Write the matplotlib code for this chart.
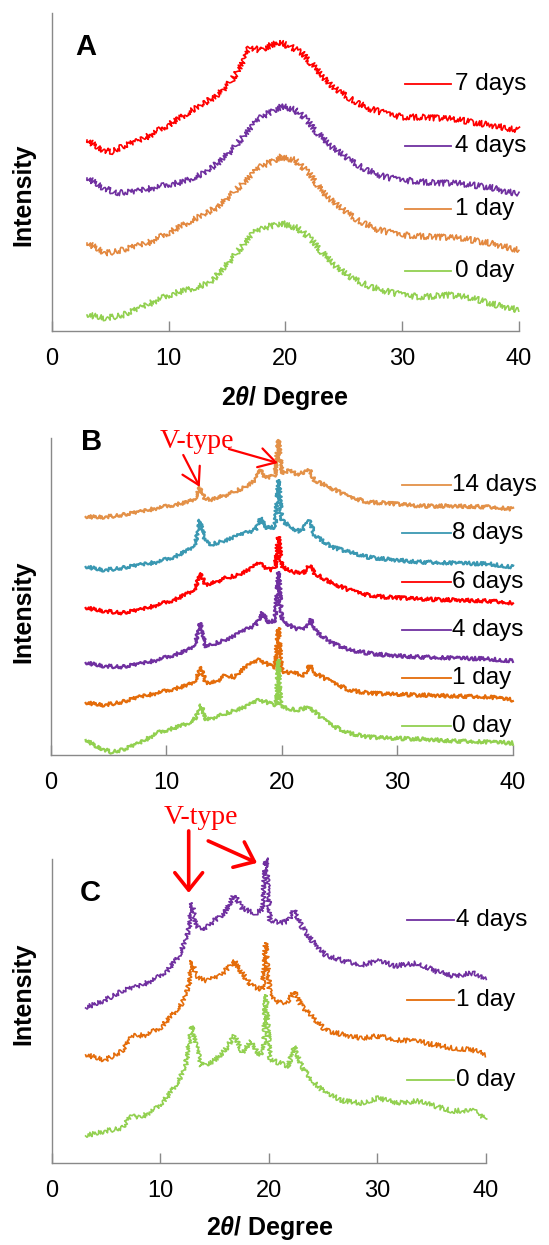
import matplotlib
matplotlib.use("Agg")
import matplotlib.pyplot as plt

plt.rcParams['font.family'] = ['Liberation Sans', 'DejaVu Sans']
plt.rcParams['mathtext.fontset'] = 'custom'
plt.rcParams['mathtext.rm'] = 'Liberation Sans:bold'
plt.rcParams['mathtext.it'] = 'Liberation Sans:italic:bold'

# ---------------- panel A (2theta in degree, intensity in arbitrary units)
a7_x = [3.0, 4.0, 5.0, 6.0, 7.6, 10.0, 12.0, 14.2, 15.4, 16.6, 16.9, 17.8, 19.4, 20.5, 21.4, 22.5, 24.0,
        25.5, 27.0, 28.5, 30.0, 31.5, 34.5, 36.0, 37.5, 39.0, 40.0]
a7_y = [191, 183, 179, 184, 191, 206, 221, 236, 251, 274, 284, 281, 289, 284, 278, 264, 244,
        233, 223, 218, 214, 214, 212, 209, 206, 203, 201]
a4_x = [3.0, 4.3, 5.5, 7.0, 9.0, 11.2, 13.0, 14.2, 15.4, 16.6, 17.8, 19.0, 19.8, 20.8, 21.7, 22.5, 24.0,
        25.5, 27.0, 28.5, 30.0, 33.0, 34.5, 36.0, 37.5, 39.0, 40.0]
a4_y = [153, 144, 138, 139, 144, 149, 158, 168, 181, 198, 213, 221, 225, 221, 213, 201, 184,
        171, 161, 154, 151, 148, 148, 146, 144, 139, 138]
a1_x = [3.0, 4.6, 6.1, 8.2, 10.0, 12.0, 14.2, 16.0, 17.8, 19.6, 20.8, 22.0, 23.2, 24.7, 26.2, 28.0,
        30.0, 33.0, 35.0, 37.5, 40.0]
a1_y = [88, 78, 81, 88, 98, 111, 124, 144, 164, 174, 171, 158, 139, 123, 111, 101,
        96, 94, 93, 88, 81]
a0_x = [3.0, 4.6, 6.1, 7.6, 9.0, 10.6, 12.4, 13.6, 14.8, 16.0, 17.2, 18.4, 19.6, 21.0, 22.0, 23.2,
        24.4, 25.5, 27.4, 29.2, 31.5, 34.0, 36.0, 38.1, 40.0]
a0_y = [16, 13, 16, 23, 31, 38, 44, 49, 64, 81, 98, 104, 108, 103, 94, 78,
        64, 54, 44, 38, 34, 36, 33, 26, 21]
a_labels = ["7 days", "4 days", "1 day", "0 day"]
a_colors = ["#FF0000", "#7030A0", "#E3883F", "#92D050"]
a_legend_y = [247, 185, 122, 60]

# ---------------- panel B
b14_x = [3.0, 4.6, 6.2, 7.7, 9.2, 10.7, 11.9, 12.5, 12.9, 13.3, 13.7, 15.2, 16.8, 17.7, 18.1, 18.6,
         19.4, 19.7, 20.0, 20.7, 21.3, 22.4, 22.8, 23.7, 24.6, 25.8, 27.4, 28.9, 31.9, 34.9, 38.0, 40.0]
b14_y = [238, 238, 240, 243, 247, 250, 253, 257, 268, 257, 255, 260, 268, 275, 285, 277,
         280, 315, 282, 285, 280, 285, 275, 270, 265, 258, 253, 252, 249, 249, 248, 246]
b8_x = [3.0, 4.6, 6.2, 7.7, 9.2, 10.7, 11.9, 12.5, 12.9, 13.3, 13.7, 15.2, 16.8, 17.7, 18.1, 18.7,
        19.4, 19.7, 20.0, 20.7, 21.6, 22.4, 22.8, 24.3, 25.8, 27.4, 28.9, 31.9, 34.9, 38.0, 40.0]
b8_y = [188, 185, 187, 190, 193, 198, 205, 212, 235, 217, 210, 215, 222, 225, 237, 227,
        228, 275, 235, 228, 223, 235, 220, 208, 203, 198, 196, 193, 192, 191, 188]
b6_x = [3.0, 4.6, 6.2, 7.7, 9.2, 10.7, 11.9, 12.5, 12.9, 13.4, 14.3, 15.1, 16.2, 17.4, 18.0, 18.9,
        19.4, 19.7, 20.0, 21.0, 21.9, 22.4, 22.8, 24.3, 25.8, 27.4, 28.9, 31.9, 34.9, 38.0, 40.0]
b6_y = [147, 144, 142, 145, 150, 155, 162, 167, 182, 170, 173, 177, 180, 187, 192, 185,
        187, 218, 188, 183, 182, 190, 182, 172, 165, 160, 158, 156, 155, 154, 152]
b4_x = [3.0, 4.6, 6.2, 7.7, 9.2, 10.7, 11.9, 12.5, 12.9, 13.4, 14.3, 15.5, 16.8, 17.7, 18.3, 18.9,
        19.4, 19.7, 20.0, 21.0, 21.9, 22.5, 23.0, 24.3, 25.8, 27.4, 28.9, 31.9, 34.9, 38.0, 40.0]
b4_y = [92, 89, 88, 91, 95, 100, 105, 112, 132, 108, 112, 117, 125, 130, 142, 132,
        135, 183, 135, 127, 125, 135, 123, 112, 105, 102, 100, 98, 97, 96, 94]
b1_x = [3.0, 4.6, 6.2, 7.7, 9.2, 10.7, 11.9, 12.5, 13.0, 13.4, 14.3, 15.1, 15.9, 16.8, 18.0, 18.9,
        19.4, 19.7, 20.0, 21.0, 21.9, 22.4, 22.8, 24.3, 25.8, 27.4, 28.9, 31.9, 34.9, 38.0, 40.0]
b1_y = [52, 50, 53, 58, 62, 66, 70, 75, 88, 72, 73, 80, 78, 88, 95, 90,
        88, 127, 83, 82, 80, 90, 82, 73, 65, 62, 61, 60, 59, 58, 55]
b0_x = [3.0, 4.0, 5.2, 6.2, 7.7, 9.2, 10.7, 11.9, 12.5, 13.0, 13.4, 14.3, 15.2, 16.8, 18.0, 18.9,
        19.5, 19.7, 19.9, 21.3, 22.4, 23.4, 24.6, 25.8, 27.4, 28.9, 31.9, 34.9, 38.0, 40.0]
b0_y = [15, 8, 3, 5, 12, 22, 27, 32, 37, 50, 35, 38, 42, 48, 55, 52,
        50, 95, 48, 45, 48, 37, 28, 22, 18, 17, 16, 14, 13, 12]
b_labels = ["14 days", "8 days", "6 days", "4 days", "1 day", "0 day"]
b_colors = ["#E39148", "#3A98B2", "#FF0000", "#7030A0", "#E46C0A", "#92D050"]
b_legend_y = [270, 222, 173, 125, 77, 29]

# ---------------- panel C
c4_x = [3.1, 4.9, 6.5, 8.1, 9.7, 10.7, 11.7, 12.3, 12.6, 12.9, 13.3, 13.9, 14.9, 15.9, 16.8, 17.5,
        18.1, 18.8, 19.4, 19.7, 20.1, 21.0, 21.8, 22.3, 23.0, 23.9, 25.2, 26.9, 28.5, 30.1, 31.7,
        33.7, 35.3, 36.9, 38.8, 40.0]
c4_y = [155, 163, 172, 177, 185, 193, 207, 223, 233, 260, 237, 232, 242, 250, 268, 255,
        252, 250, 253, 305, 243, 240, 242, 253, 237, 223, 208, 202, 198, 202, 197,
        200, 192, 187, 190, 183]
c1_x = [3.1, 4.9, 6.5, 7.4, 8.7, 10.0, 11.0, 12.0, 12.6, 12.9, 13.3, 14.2, 15.5, 16.8, 17.5, 18.4,
        19.4, 19.7, 20.1, 21.0, 21.8, 22.3, 23.0, 23.9, 25.2, 26.9, 28.5, 30.1, 31.7, 33.7, 35.3,
        36.9, 38.8, 40.0]
c1_y = [108, 103, 112, 127, 128, 135, 147, 160, 177, 202, 187, 182, 187, 202, 190, 177,
        173, 220, 167, 160, 162, 172, 157, 147, 133, 128, 125, 127, 123, 122, 118,
        115, 113, 108]
c0_x = [3.1, 4.9, 6.5, 7.3, 8.1, 9.7, 10.7, 11.7, 12.3, 12.9, 13.3, 13.8, 14.9, 15.9, 16.8, 17.6,
        18.3, 19.1, 19.5, 19.7, 20.1, 21.0, 21.8, 22.3, 23.0, 23.9, 25.2, 26.9, 28.5, 30.1, 31.7,
        33.7, 35.3, 36.9, 38.8, 40.0]
c0_y = [27, 32, 35, 47, 45, 55, 67, 83, 97, 137, 117, 97, 102, 112, 127, 110,
        122, 107, 113, 168, 103, 100, 97, 117, 97, 83, 70, 62, 60, 65, 60,
        62, 57, 52, 53, 43]
c_labels = ["4 days", "1 day", "0 day"]
c_colors = ["#7030A0", "#E46C0A", "#92D050"]
c_legend_y = [243, 163, 83]

ticks = [0, 10, 20, 30, 40]
axis_gray = "#898989"

fig = plt.figure(figsize=(5.49, 12.45), dpi=100)


def make_axes(rect, ytop):
    ax = fig.add_axes(rect)
    ax.set_xlim(0, 40)
    ax.set_ylim(0, ytop)
    for s in ["top", "right"]:
        ax.spines[s].set_visible(False)
    for s in ["left", "bottom"]:
        ax.spines[s].set_color(axis_gray)
        ax.spines[s].set_linewidth(1.0)
    ax.set_yticks([])
    ax.set_xticks(ticks)
    ax.tick_params(axis="x", direction="in", length=7, width=1, color=axis_gray,
                   labelsize=17, pad=12)
    return ax


def draw_curves(ax, xs, ys, colors, labels, legend_y, lx0, lx1, tx, noise, lw):
    # sketch params only roughen the drawn stroke to look like counting noise
    for x, y, c in zip(xs, ys, colors):
        ln, = ax.plot(x, y, color=c, lw=lw, clip_on=False)
        ln.set_sketch_params(scale=noise, length=0.45, randomness=2)
    for ly, c, lab in zip(legend_y, colors, labels):
        ax.plot([lx0, lx1], [ly, ly], color=c, lw=1.3, clip_on=False)
        ax.text(tx, ly, lab, fontsize=17.5, ha="left", va="center")


# panel A
axA = make_axes([0.0947, 0.7341, 0.8506, 0.2554], 318)
draw_curves(axA, [a7_x, a4_x, a1_x, a0_x], [a7_y, a4_y, a1_y, a0_y], a_colors, a_labels,
            a_legend_y, 30.2, 34.2, 34.5, 3.0, 1.2)
axA.text(2.9, 284, "A", fontsize=21, fontweight="bold", ha="center", va="center")

# panel B
axB = make_axes([0.0929, 0.3936, 0.8415, 0.2546], 317)
draw_curves(axB, [b14_x, b8_x, b6_x, b4_x, b1_x, b0_x], [b14_y, b8_y, b6_y, b4_y, b1_y, b0_y],
            b_colors, b_labels, b_legend_y, 30.4, 34.6, 34.7, 1.8, 1.6)
axB.text(3.5, 313, "B", fontsize=21, fontweight="bold", ha="center", va="center")
axB.text(12.6, 313, "V-type", fontsize=20, color="red", family="Liberation Serif",
         ha="center", va="center")
arrB = dict(arrowstyle="->,head_length=0.6,head_width=0.35", color="red", lw=1.6,
            mutation_scale=20, shrinkA=0, shrinkB=0)
axB.annotate("", xy=(12.88, 268), xytext=(11.45, 300), arrowprops=arrB, annotation_clip=False)
axB.annotate("", xy=(19.65, 292), xytext=(15.4, 306), arrowprops=arrB, annotation_clip=False)

# panel C
axC = make_axes([0.0947, 0.0659, 0.7905, 0.2442], 304)
draw_curves(axC, [c4_x, c1_x, c0_x], [c4_y, c1_y, c0_y], c_colors, c_labels, c_legend_y,
            32.7, 37.05, 37.2, 2.4, 1.2)
axC.text(3.56, 270, "C", fontsize=21, fontweight="bold", ha="center", va="center")
axC.text(13.75, 345, "V-type", fontsize=20, color="red", family="Liberation Serif",
         ha="center", va="center")
arrC = dict(arrowstyle="->,head_length=0.5,head_width=0.4", color="red", lw=2.6,
            mutation_scale=25, shrinkA=0, shrinkB=0)
axC.annotate("", xy=(12.6, 270), xytext=(12.6, 332), arrowprops=arrC, annotation_clip=False)
axC.annotate("", xy=(18.9, 300), xytext=(14.4, 322), arrowprops=arrC, annotation_clip=False)

# axis titles
for yc in [195, 612, 994]:
    fig.text(23 / 549, 1 - yc / 1245, "Intensity", rotation=90, fontsize=18,
             fontweight="bold", ha="center", va="center")
fig.text(285 / 549, 1 - 398 / 1245, r"2$\mathit{\theta}$/ Degree", fontsize=18,
         fontweight="bold", ha="center", va="center")
fig.text(270 / 549, 1 - 1228 / 1245, r"2$\mathit{\theta}$/ Degree", fontsize=18,
         fontweight="bold", ha="center", va="center")

fig.savefig("out.png", dpi=100)
